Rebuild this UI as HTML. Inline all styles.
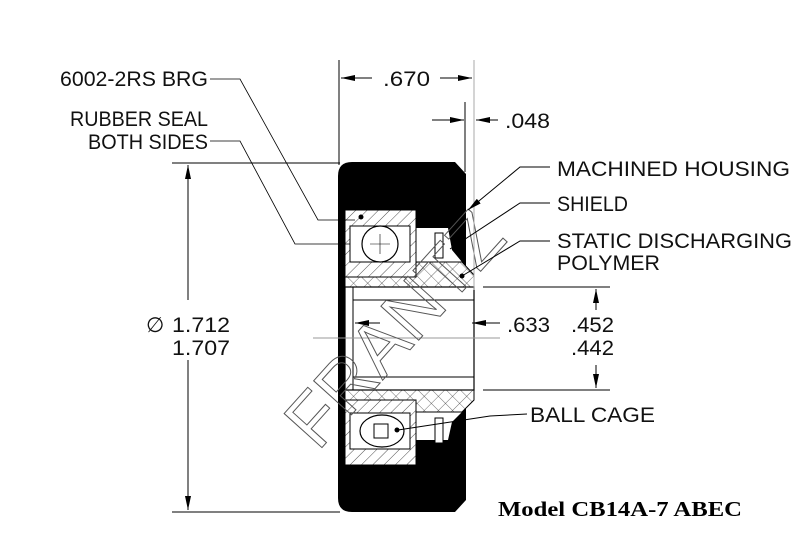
<!DOCTYPE html>
<html><head><style>
html,body{margin:0;padding:0;background:#fff}
svg{display:block}
.t{font-family:"Liberation Sans",sans-serif;font-size:21px;fill:#111}
</style></head><body>
<svg width="809" height="542" viewBox="0 0 809 542" xmlns="http://www.w3.org/2000/svg">
<defs>
<pattern id="h" width="8" height="8" patternUnits="userSpaceOnUse" patternTransform="rotate(45)">
<rect width="8" height="8" fill="#fff"/><line x1="0" y1="0" x2="0" y2="8" stroke="#222" stroke-width="0.8"/></pattern>
<pattern id="x" width="10" height="10" patternUnits="userSpaceOnUse" patternTransform="rotate(45)">
<rect width="10" height="10" fill="#fff"/><line x1="0" y1="0" x2="0" y2="10" stroke="#333" stroke-width="0.7"/><line x1="0" y1="0" x2="10" y2="0" stroke="#333" stroke-width="0.7"/></pattern>
<marker id="a" markerWidth="14" markerHeight="6" refX="14" refY="3" orient="auto" markerUnits="userSpaceOnUse"><path d="M0,0 L14,3 L0,6Z" fill="#000"/></marker>
</defs>
<path d="M352,162 L455,162 L466,174 L466,500 L455,512 L352,512 Q338,512 338,498 L338,176 Q338,162 352,162Z" fill="#000"/>
<path d="M345,210 L416,210 L416,228 L430,228 L448,228 L452,250 L462,262 L474,275 L474,400 L462,412 L452,422 L448,440 L416,440 L416,465 L345,465Z" fill="#fff"/>
<rect x="345" y="210" width="71" height="67" fill="url(#h)" stroke="#000"/>
<rect x="350" y="226" width="60" height="36" fill="#fff" stroke="#000"/>
<circle cx="380" cy="244" r="18" fill="#fff" stroke="#000" stroke-width="1.2"/>
<line x1="370" y1="244" x2="390" y2="244" stroke="#000" stroke-width="0.6"/><line x1="380" y1="234" x2="380" y2="254" stroke="#000" stroke-width="0.6"/>
<path d="M416,262 L462,262 L474,275 L474,287 L345,287 L345,277 L416,277Z" fill="url(#x)" stroke="#000"/>
<path d="M345,390 L474,390 L474,400 L462,412 L416,412 L416,400 L345,400Z" fill="url(#x)" stroke="#000"/>
<rect x="435" y="233" width="8" height="25" fill="#fff" stroke="#000"/>
<rect x="435" y="418" width="8" height="25" fill="#fff" stroke="#000"/>
<rect x="345" y="287" width="129" height="103" fill="#fff" stroke="#000" stroke-width="1.2"/>
<line x1="353" y1="287" x2="353" y2="390" stroke="#000"/>
<line x1="353" y1="300" x2="474" y2="300" stroke="#000"/>
<line x1="353" y1="377" x2="474" y2="377" stroke="#000"/>
<rect x="345" y="400" width="71" height="65" fill="url(#h)" stroke="#000"/>
<rect x="350" y="413" width="60" height="36" fill="#fff" stroke="#000"/>
<ellipse cx="382" cy="431" rx="22" ry="16" fill="#fff" stroke="#000" stroke-width="1.2"/>
<rect x="374" y="424" width="14" height="14" fill="#fff" stroke="#000"/>
<circle cx="397" cy="430" r="2.5" fill="#000"/>
<line x1="313" y1="338" x2="500" y2="338" stroke="#999"/>
<text x="0" y="0" transform="translate(318,452) rotate(-48)" font-family="Liberation Sans,sans-serif" font-size="74" fill="none" stroke="#555" stroke-width="1" textLength="285" lengthAdjust="spacingAndGlyphs">FRANTZ</text>
<g stroke="#000" stroke-width="1" fill="none">
<line x1="339" y1="60" x2="339" y2="165"/>
<line x1="474" y1="60" x2="474" y2="290" stroke="#aaa"/>
<line x1="465" y1="102" x2="465" y2="172"/>
<line x1="372" y1="78" x2="341" y2="78" marker-end="url(#a)"/>
<line x1="440" y1="78" x2="472" y2="78" marker-end="url(#a)"/>
<line x1="432" y1="120" x2="464" y2="120" marker-end="url(#a)"/>
<line x1="498" y1="120" x2="476" y2="120" marker-end="url(#a)"/>
<line x1="172" y1="163" x2="340" y2="163"/>
<line x1="172" y1="512" x2="340" y2="512"/>
<line x1="188" y1="300" x2="188" y2="165" marker-end="url(#a)"/>
<line x1="188" y1="360" x2="188" y2="510" marker-end="url(#a)"/>
<line x1="483" y1="287" x2="610" y2="287"/>
<line x1="483" y1="390" x2="610" y2="390"/>
<line x1="596" y1="310" x2="596" y2="289" marker-end="url(#a)"/>
<line x1="596" y1="365" x2="596" y2="388" marker-end="url(#a)"/>
<line x1="380" y1="323" x2="355" y2="323" marker-end="url(#a)"/>
<line x1="500" y1="323" x2="472" y2="323" marker-end="url(#a)"/>
<polyline points="210,79 240,79 318,220 355,220" stroke-width="0.8"/>
<polyline points="210,141 240,141 295,244 350,244" stroke-width="0.8"/>
<polyline points="550,167 520,167 468,210" marker-end="url(#a)"/>
<polyline points="550,203 520,203 450,249"/>
<polyline points="550,241 520,241 462,276"/>
<polyline points="527,414 490,416 398,430"/>
</g>
<circle cx="361" cy="217" r="2.5" fill="#000"/>
<circle cx="462" cy="276" r="2.5" fill="#000"/>
<text class="t" x="60" y="86" textLength="148" lengthAdjust="spacingAndGlyphs">6002-2RS BRG</text>
<text class="t" x="70" y="126" textLength="138" lengthAdjust="spacingAndGlyphs">RUBBER SEAL</text>
<text class="t" x="88" y="149" textLength="120" lengthAdjust="spacingAndGlyphs">BOTH SIDES</text>
<text class="t" x="383" y="86" textLength="47" lengthAdjust="spacingAndGlyphs">.670</text>
<text class="t" x="505" y="128" textLength="45" lengthAdjust="spacingAndGlyphs">.048</text>
<text class="t" x="557" y="176" textLength="233" lengthAdjust="spacingAndGlyphs">MACHINED HOUSING</text>
<text class="t" x="557" y="211" textLength="71" lengthAdjust="spacingAndGlyphs">SHIELD</text>
<text class="t" x="557" y="248" textLength="235" lengthAdjust="spacingAndGlyphs">STATIC DISCHARGING</text>
<text class="t" x="557" y="270" textLength="103" lengthAdjust="spacingAndGlyphs">POLYMER</text>
<text class="t" x="507" y="332" textLength="43" lengthAdjust="spacingAndGlyphs">.633</text>
<text class="t" x="571" y="332" textLength="43" lengthAdjust="spacingAndGlyphs">.452</text>
<text class="t" x="571" y="355" textLength="43" lengthAdjust="spacingAndGlyphs">.442</text>
<text class="t" x="530" y="422" textLength="125" lengthAdjust="spacingAndGlyphs">BALL CAGE</text>
<text class="t" x="146" y="332">∅</text>
<text class="t" x="172" y="332" textLength="58" lengthAdjust="spacingAndGlyphs">1.712</text>
<text class="t" x="172" y="355" textLength="58" lengthAdjust="spacingAndGlyphs">1.707</text>
<text x="498" y="516" font-family="Liberation Serif,serif" font-weight="bold" font-size="21" fill="#000" textLength="244" lengthAdjust="spacingAndGlyphs">Model CB14A-7 ABEC</text>
</svg>
</body></html>
